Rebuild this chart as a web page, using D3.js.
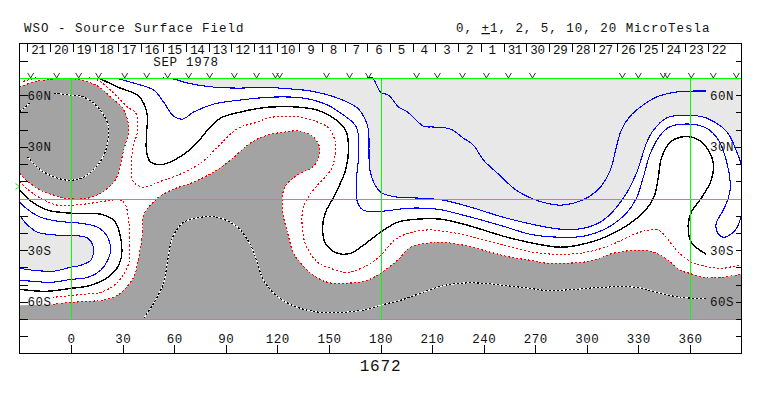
<!DOCTYPE html>
<html>
<head>
<meta charset="utf-8">
<script src="https://d3js.org/d3.v7.min.js"></script>
<style>
  body { margin: 0; background: #fff; }
  text { font-family: "Liberation Mono", monospace; fill: #111; }
</style>
</head>
<body>
<div id="chart"></div>
<script>
const dayLabels = ["21","20","19","18","17","16","15","14","13","12","11","10","9","8","7","6","5","4","3","2","1","31","30","29","28","27","26","25","24","23","22"];
const lonTicks = [0,30,60,90,120,150,180,210,240,270,300,330,360];
const latTicks = [80,60,50,40,30,20,10,-10,-20,-30,-40,-50,-60,-70,-80];
const latLabels = [[60,"60N"],[30,"30N"],[-30,"30S"],[-60,"60S"]];
const greenLons = [0,180,360];
const greenLats = [70,0,-70];
const chevronLons = [-23.5,-8.4,4.4,16,31.2,44,56.2,68.4,80.6,95,107.9,118.9,121.3,148.6,162,173,201,213.1,227.7,241.6,254.4,268.4,320.7,330,344.5,346.8,360.8,373.6,387];

const darkNorth = [[-30,64.7],[-21.7,67.6],[-11.9,69.2],[-4.3,69.9],[5.6,68.8],[15.5,65.3],[23,58.9],[30,52.5],[32.9,45.5],[33.5,39],[30.6,28.1],[27.1,13.6],[24.8,9.5],[17.2,3.1],[9.7,0.2],[-0.2,-0.2],[-7.8,1.3],[-17.7,4.8],[-24.7,9.5],[-30,14.7]];
const darkMain = [[-10.7,-61.5],[-0.2,-60.3],[11.4,-59.7],[21.3,-58.5],[28.8,-55],[36.4,-45.8],[38.7,-37.6],[41.6,-20.2],[42.2,-9.7],[50.3,0.2],[59.7,5.4],[71.3,9.5],[82.9,15.3],[92.8,22.3],[104.4,32.2],[114.3,36.8],[123.6,38.5],[133.5,39.1],[141,35.6],[144.5,29.8],[144,24],[140.5,18.2],[133.5,14.7],[126.5,9.5],[123.6,4.8],[123,-6.8],[126,-20.2],[129.4,-31.8],[132.3,-35.9],[139.3,-43.4],[149.2,-48.7],[160.8,-49.2],[172.4,-47.5],[180,-43.4],[189.9,-35.9],[197.4,-28.3],[207.3,-26],[214.9,-25.4],[228.3,-27.1],[244,-31.2],[255.6,-34.1],[267.2,-35.9],[276.5,-37.6],[286.4,-37.6],[298,-37],[305.6,-35.3],[315.5,-31.8],[328.9,-30],[337,-30.6],[342.8,-32.9],[347.5,-35.9],[354.4,-41.7],[359.7,-43.4],[367.8,-45.8],[377.7,-45.8],[390,-44]];

const redWest = [[-30,10],[-24.7,4.8],[-17.7,0.2],[-7.8,-3.9],[7.3,-3.3],[19,-1.6],[28.8,-1],[31.7,-3.9],[33.5,-12.6],[34,-24],[33.5,-37.6],[27.1,-48.7],[17.2,-54.5],[7.3,-55.6],[-10.7,-57.4]];
const redCorner = [[-28,68],[-20.6,70]];
const redMain = [[10.2,70],[15.5,68.8],[24.8,61.2],[33,53],[37.6,49.6],[38.7,39.7],[35.8,28.1],[35.8,10.6],[38.7,7.7],[42.2,6.6],[53.8,10.6],[62,13.5],[75.3,20.5],[85.2,29.8],[94,38.5],[98.6,41.5],[108.5,44.4],[114.3,46.7],[123.6,47.8],[133.5,47.3],[143.4,44.4],[149.8,40.9],[153.8,32.2],[152.7,20.5],[149.8,14.7],[143.4,7.7],[137.6,0.2],[134.7,-6.8],[135.2,-22.5],[138.1,-30],[143.4,-37],[150.9,-40.5],[160.8,-42.8],[170.1,-39.9],[178.3,-34.7],[189.9,-23],[205,-18.4],[220.7,-19.6],[236.4,-23],[251.5,-27.1],[269,-31.2],[284.7,-32.4],[299.8,-31.2],[313.7,-27.1],[328.9,-20.2],[335.8,-18.4],[341.6,-18.4],[346.3,-22.5],[352.1,-30],[359,-35.9],[361.9,-37.6],[371.8,-39.9],[379.4,-40.5],[390,-38.2]];

const blackMain = [[15.5,70],[17.2,69.4],[27.1,64.7],[38.7,60],[42.2,55.4],[44.5,47.3],[44,39.7],[44,26.3],[46.3,21.1],[53.8,19.9],[64.9,25.2],[73.6,32.7],[79.4,39.7],[87,46.7],[98.6,50.2],[110.2,52.5],[116,53.1],[131.7,53.1],[143.4,51.3],[152.7,46.7],[159.7,39.7],[161.4,29.8],[159.7,16.5],[152.7,0.8],[148,-8],[146.3,-16.7],[148,-26],[155,-31.8],[162.6,-31.8],[170.1,-27.1],[180,-19.6],[189.9,-13.8],[201.5,-12],[214.9,-12],[228.3,-14.9],[244,-19.6],[251.5,-21.9],[269,-26],[284.7,-28.3],[299.8,-26],[315.5,-20.2],[331.2,-9.7],[338.8,0.2],[341.6,12.4],[343.4,23.4],[348.6,32.7],[354.4,35.6],[363.1,35],[369.5,29.8],[373.6,20.5],[372.4,10.6],[366.6,0.2],[360.8,-7.9],[359,-15.5],[360.8,-25.4],[369.5,-32.4]];
const blackWest = [[-30,4.8],[-21.7,-2.7],[-13.6,-6.8],[-0.2,-8.5],[17.2,-9.1],[24.8,-12.6],[28.3,-20.2],[28.8,-35.9],[23,-44.6],[11.4,-50.4],[-0.2,-52.2],[-14.8,-53.9],[-30,-52.7]];

const blueWestOuter = [[-30,-2.2],[-24.7,-6.8],[-17.7,-10.9],[-7.8,-13.2],[5.6,-14.4],[15.5,-16.7],[21.3,-22.5],[23,-30],[21.3,-35.9],[17.2,-41.7],[9.7,-45.8],[-0.2,-47],[-11.9,-48.7],[-21.7,-48.1],[-30,-47.5]];
const blueWestInner = [[-30,-9.7],[-25.2,-15.5],[-19.4,-19.6],[-7.8,-21.3],[-0.2,-21.3],[9.7,-23],[12.6,-27.1],[13.1,-31.2],[11.4,-35.9],[5.6,-38.8],[-0.2,-39.9],[-10.1,-42.2],[-21.7,-41.7],[-30,-40.5]];
const blueOuter = [[25.9,70],[36.4,67],[48,63],[53.8,56],[59.7,47.8],[64.9,46.1],[71.3,50.2],[82.9,54.8],[98.6,57.2],[117.8,58.9],[135.2,58.3],[149.2,54.3],[158.5,48.4],[164.3,43.8],[166.6,39.7],[167.2,24],[166,10.6],[166.6,-2.2],[170.1,-6.8],[180,-7.4],[197.4,-5.6],[213.1,-6.2],[228.3,-9.7],[251.5,-16.1],[267.2,-20.8],[284.7,-22.5],[298,-21.9],[311.4,-17.3],[323,-8.5],[328.9,0.2],[332.9,12.4],[337,26.3],[342.8,36.8],[348,41.5],[360.2,43.2],[369.5,40.9],[375.9,35],[380.6,24],[383.5,6.6],[382.3,0.2],[379.4,-6.8],[375.3,-14.4],[375.9,-19.6],[379.4,-22.5],[384.6,-20.2],[387.5,-16.7],[390,-9.7]];
const blueInner = [[53.3,70],[59.7,69.4],[67.8,67],[82.9,64.7],[98.6,64.1],[110.2,64.7],[127.7,63.6],[139.3,62.4],[155,58.3],[166.6,52.5],[171.3,45.5],[173,39.7],[174.2,14.7],[180,3.7],[189.9,0.8],[203.3,0.2],[216.6,-1],[232.3,-5],[251.5,-10.9],[270.7,-15.5],[284.7,-17.8],[298,-17.3],[309.6,-12.6],[321.3,0.2],[328.9,14.7],[334.7,32.2],[338.8,39.7],[346.3,46.7],[356.2,48.4],[367.8,47.3],[375.3,43.8],[380.6,39.7],[383.5,35.6],[387.6,26.3],[390,19.4]];
const blueTop = [[172.4,70],[175.3,70],[180,61.8],[184.7,60],[190.5,53.1],[195.7,50.2],[205,42],[210.8,41.5],[220.7,40.3],[228.3,35],[234,31],[239.9,22.3],[248,14.7],[259,4.8],[269,-0.4],[276.5,-2.7],[284.7,-3.9],[292.3,-2.7],[299.8,0.2],[307.9,6.6],[313.7,16.5],[317.2,29.8],[320.1,39.7],[324.8,47.3],[331.2,53.1],[340.5,58.9],[352.1,61.8],[369.5,62.4]];

const neutralA = [[-30,50.2],[-24,55.4]];
const neutralB = [[-10.1,61.2],[-0.2,60],[7.3,58.9],[15.5,53.1],[21.3,43.8],[21.9,39.7],[20.2,28.1],[15.5,19.4],[7.3,12.4],[-0.2,10.6],[-7.8,11.8],[-17.7,16.5],[-25.2,24]];
const neutralC = [[42.2,-69.6],[48,-60.9],[53.8,-49.2],[56.2,-35.9],[59.1,-22.5],[65.5,-13.8],[75.3,-10.9],[85.2,-10.9],[96.9,-16.7],[104.4,-27.1],[107.9,-35.9],[112,-47.5],[120.7,-57.4],[131.7,-63.2],[145.1,-66.1],[158.5,-66.1],[172.4,-64.3],[180,-62],[191.6,-59.1],[203.3,-55],[214.9,-51],[226.5,-49.2],[239.9,-49.2],[251.5,-50.4],[267.2,-52.2],[276.5,-53.4],[294,-52.7],[307.9,-51.6],[328.9,-51.6],[342.8,-55],[354.4,-57.4],[369.5,-58]];

const width = 763, height = 396;
const GREEN = "#00ff00", DARK = "#a3a3a3", LIGHT = "#e8e8e8";

const x = d3.scaleLinear().domain([-30, 390]).range([19.5, 741.5]);
const y = d3.scaleLinear().domain([90, -90]).range([43.5, 353.5]);
const dayBand = d3.scaleBand().domain(dayLabels).range([x(-25.5), x(383.5)]);

const svg = d3.select("#chart").append("svg")
    .attr("width", width)
    .attr("height", height)
    .style("display", "block");

const contour = d3.line().x(d => x(d[0])).y(d => y(d[1])).curve(d3.curveCatmullRom.alpha(0.5));
const corners = pts => pts.map(p => "L" + x(p[0]) + "," + y(p[1])).join("");

// filled regions, curve first and then straight along the plot edges
const fills = svg.append("g");
fills.append("path").attr("fill", LIGHT)
    .attr("d", contour(blueInner) + corners([[390,70]]) + "Z");
fills.append("path").attr("fill", LIGHT)
    .attr("d", contour(blueWestInner) + "Z");
fills.append("path").attr("fill", DARK)
    .attr("d", contour(darkNorth) + "Z");
fills.append("path").attr("fill", DARK)
    .attr("d", contour(darkMain) + corners([[390,-70],[-30,-70],[-30,-62]]) + "Z");

const lines = svg.append("g").attr("fill", "none").attr("shape-rendering", "crispEdges");

function drawLines(list, color, w, dash) {
    lines.selectAll(null)
        .data(list)
        .join("path")
        .attr("d", contour)
        .attr("stroke", color)
        .attr("stroke-width", w)
        .attr("stroke-dasharray", dash);
}

drawLines([blueTop, blueInner, blueOuter, blueWestInner, blueWestOuter], "#0000ff", 1.1, null);
drawLines([blackMain, blackWest], "#000", 1.4, null);
drawLines([darkNorth, darkMain, redWest, redCorner, redMain], "#ff0000", 1.1, "2,2");
drawLines([neutralA, neutralB, neutralC], "#fff", 1.1, null);
drawLines([neutralA, neutralB, neutralC], "#000", 1.1, "2,2");

// green reference grid
const grid = svg.append("g").attr("stroke", GREEN).attr("shape-rendering", "crispEdges");
grid.selectAll(".lat")
    .data(greenLats)
    .join("line")
    .attr("x1", x(-30)).attr("x2", x(390))
    .attr("y1", d => Math.round(y(d)) + 0.5).attr("y2", d => Math.round(y(d)) + 0.5);
grid.selectAll(".lon")
    .data(greenLons)
    .join("line")
    .attr("x1", d => Math.round(x(d)) + 0.5).attr("x2", d => Math.round(x(d)) + 0.5)
    .attr("y1", y(70)).attr("y2", y(-70));
svg.append("path")
    .attr("fill", "none")
    .attr("stroke", GREEN)
    .attr("d", "M" + (x(-30) - 4) + "," + (y(7) - 3) + "L" + x(-30) + "," + y(7) + "L" + (x(-30) - 4) + "," + (y(7) + 3));

// sub-earth chevrons above the top green line
svg.append("g").attr("fill", "none").attr("stroke", "#333")
    .selectAll("path")
    .data(chevronLons)
    .join("path")
    .attr("d", d => "M" + (x(d) - 3) + "," + (y(70) - 5) + "L" + x(d) + "," + y(70) + "L" + (x(d) + 3) + "," + (y(70) - 5));

// axes
const tickFix = g => g.call(s => s.select(".domain").remove())
    .call(s => s.selectAll("line").attr("stroke", "#000").attr("shape-rendering", "crispEdges"));

svg.append("g")
    .attr("transform", "translate(0," + y(-90) + ")")
    .call(d3.axisBottom(x).tickValues(lonTicks).tickSize(-9).tickFormat(d3.format("d")))
    .call(tickFix)
    .call(s => s.selectAll("text")
        .attr("y", -11).attr("dy", 0)
        .style("font-family", '"Liberation Mono", monospace')
        .style("font-size", "12.5px").style("letter-spacing", "0.5px"));

svg.append("g")
    .attr("transform", "translate(" + x(-30) + ",0)")
    .call(d3.axisLeft(y).tickValues(latTicks).tickSize(-8).tickFormat(""))
    .call(tickFix);
svg.append("g")
    .attr("transform", "translate(" + x(390) + ",0)")
    .call(d3.axisRight(y).tickValues(latTicks).tickSize(-6).tickFormat(""))
    .call(tickFix);

svg.append("g")
    .selectAll("line")
    .data(dayLabels)
    .join("line")
    .attr("stroke", "#000")
    .attr("shape-rendering", "crispEdges")
    .attr("x1", d => Math.round(dayBand(d)) + 0.5).attr("x2", d => Math.round(dayBand(d)) + 0.5)
    .attr("y1", y(90)).attr("y2", y(90) + 8);

svg.append("g")
    .selectAll("text")
    .data(dayLabels)
    .join("text")
    .attr("x", d => dayBand(d) + dayBand.bandwidth() / 2)
    .attr("y", 54)
    .attr("text-anchor", "middle")
    .style("font-size", "12.5px")
    .style("letter-spacing", "-0.3px")
    .text(d => d);

svg.append("rect")
    .attr("x", x(-30)).attr("y", y(90))
    .attr("width", x(390) - x(-30)).attr("height", y(-90) - y(90))
    .attr("fill", "none").attr("stroke", "#000")
    .attr("shape-rendering", "crispEdges");

// lat labels on both sides
[27.5, 710].forEach(px => {
    svg.append("g")
        .selectAll("text")
        .data(latLabels)
        .join("text")
        .attr("x", px)
        .attr("y", d => y(d[0]) + 4.5)
        .style("font-size", "12.5px")
        .style("letter-spacing", "0.5px")
        .text(d => d[1]);
});

// titles
const title = (txt, px, py, size, spacing, anchor) => svg.append("text")
    .attr("x", px).attr("y", py)
    .attr("text-anchor", anchor || "start")
    .style("font-size", size + "px")
    .style("letter-spacing", spacing + "px")
    .text(txt);

title("WSO - Source Surface Field", 24, 32, 12.5, 0.98);
title("SEP 1978", 186, 66, 12.5, 0.7, "middle");
title("1672", x(180), 371, 16, 0.8, "middle");

const range = svg.append("text").attr("x", 456).attr("y", 32)
    .style("font-size", "12.5px").style("letter-spacing", "0.98px");
range.append("tspan").text("0, ");
range.append("tspan").style("text-decoration", "underline").text("+");
range.append("tspan").text("1, 2, 5, 10, 20 MicroTesla");
</script>
</body>
</html>
